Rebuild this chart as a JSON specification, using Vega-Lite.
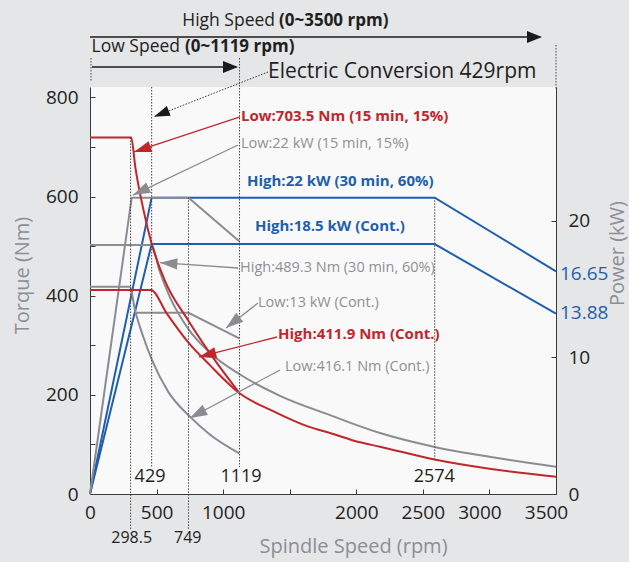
{
  "$schema": "https://vega.github.io/schema/vega-lite/v6.json",
  "width": 466,
  "height": 407,
  "autosize": "none",
  "padding": {"left": 90, "top": 87, "right": 73, "bottom": 68},
  "background": "#e5e6e8",
  "config": {
    "view": {"fill": "#f9f9f9", "stroke": null},
    "font": "Open Sans",
    "text": {"font": "Open Sans"}
  },
  "layer": [
    {
      "encoding": {
        "x": {"field": "rpm", "type": "quantitative", "scale": {"domain": [0, 3500], "nice": false}},
        "y": {
          "field": "p", "type": "quantitative",
          "scale": {"domain": [0, 29.8], "nice": false, "zero": true},
          "axis": {
            "orient": "right", "values": [0, 10, 20, 30], "grid": false,
            "domainColor": "#3a3a3a", "tickColor": "#3a3a3a", "tickSize": -5, "labelPadding": 17,
            "labelFontSize": 19, "labelColor": "#231f20", "labelFont": "Open Sans",
            "title": "Power (kW)", "titleFontSize": 20, "titleFontWeight": "normal", "titleColor": "#8b8e96",
            "titleFont": "Open Sans", "titleAngle": 270, "titleX": 61, "titleY": 166, "titleAlign": "center", "titleBaseline": "middle"
          }
        }
      },
      "layer": [
        {
          "data": {"values": [
            {"series": "High 22 kW (30 min, 60%)", "rpm": 0, "p": 0},
            {"series": "High 22 kW (30 min, 60%)", "rpm": 463, "p": 21.7},
            {"series": "High 22 kW (30 min, 60%)", "rpm": 2589, "p": 21.7},
            {"series": "High 22 kW (30 min, 60%)", "rpm": 3500, "p": 16.3},
            {"series": "High 18.5 kW (Cont.)", "rpm": 0, "p": 0},
            {"series": "High 18.5 kW (Cont.)", "rpm": 463, "p": 18.3},
            {"series": "High 18.5 kW (Cont.)", "rpm": 2589, "p": 18.3},
            {"series": "High 18.5 kW (Cont.)", "rpm": 3500, "p": 13.2}
          ]},
          "mark": {"type": "line", "color": "#1f5fad", "strokeWidth": 2},
          "encoding": {"detail": {"field": "series"}}
        },
        {
          "data": {"values": [
            {"series": "Low 22 kW (15 min, 15%)", "rpm": 0, "p": 0},
            {"series": "Low 22 kW (15 min, 15%)", "rpm": 313, "p": 21.7},
            {"series": "Low 22 kW (15 min, 15%)", "rpm": 740, "p": 21.7},
            {"series": "Low 22 kW (15 min, 15%)", "rpm": 1121, "p": 18.5},
            {"series": "Low 13 kW (Cont.)", "rpm": 338, "p": 13.27},
            {"series": "Low 13 kW (Cont.)", "rpm": 740, "p": 13.27},
            {"series": "Low 13 kW (Cont.)", "rpm": 1121, "p": 11.4}
          ]},
          "mark": {"type": "line", "color": "#8a8c92", "strokeWidth": 2},
          "encoding": {"detail": {"field": "series"}}
        },
        {
          "data": {"values": [
            {"label": "16.65", "rpm": 3530, "p": 16.1},
            {"label": "13.88", "rpm": 3530, "p": 13.23}
          ]},
          "mark": {"type": "text", "align": "left", "baseline": "middle", "fontSize": 19, "color": "#1f5fad"},
          "encoding": {"text": {"field": "label"}}
        }
      ]
    },
    {
      "encoding": {
        "x": {
          "field": "rpm", "type": "quantitative", "scale": {"domain": [0, 3500], "nice": false},
          "axis": {
            "values": [0, 500, 1000, 1500, 2000, 2500, 3000, 3500], "format": "d",
            "labelExpr": "datum.value === 1500 ? '' : datum.label", "labelFlush": false,
            "labelOffset": {"condition": {"test": "datum.value >= 3000", "value": -10}, "value": 0},
            "grid": false, "domainColor": "#3a3a3a", "tickColor": "#3a3a3a", "tickSize": -5, "labelPadding": 14,
            "labelFontSize": 19, "labelColor": "#231f20", "labelFont": "Open Sans",
            "title": "Spindle Speed (rpm)", "titleFontSize": 20, "titleFontWeight": "normal", "titleColor": "#8b8e96",
            "titleFont": "Open Sans", "titleX": 263, "titleY": 52, "titleAlign": "center", "titleBaseline": "middle"
          }
        },
        "y": {
          "field": "t", "type": "quantitative",
          "scale": {"domain": [0, 821], "nice": false, "zero": true},
          "axis": {
            "orient": "left", "values": [0, 100, 200, 300, 400, 500, 600, 700, 800],
            "labelExpr": "datum.value % 200 === 0 ? datum.label : ''",
            "grid": false, "domainColor": "#3a3a3a", "tickColor": "#3a3a3a", "tickSize": -5, "labelPadding": 17,
            "labelFontSize": 19, "labelColor": "#231f20", "labelFont": "Open Sans",
            "title": "Torque (Nm)", "titleFontSize": 20, "titleFontWeight": "normal", "titleColor": "#8b8e96",
            "titleFont": "Open Sans", "titleAngle": 270, "titleX": -68, "titleY": 188, "titleAlign": "center", "titleBaseline": "middle"
          }
        }
      },
      "layer": [
        {
          "data": {"values": [
            {"series": "High 489.3 Nm (30 min, 60%)", "rpm": 0, "t": 502.3},
            {"series": "High 489.3 Nm (30 min, 60%)", "rpm": 463, "t": 502.3},
            {"series": "High 489.3 Nm (30 min, 60%)", "rpm": 520, "t": 452},
            {"series": "High 489.3 Nm (30 min, 60%)", "rpm": 600, "t": 397},
            {"series": "High 489.3 Nm (30 min, 60%)", "rpm": 738, "t": 333},
            {"series": "High 489.3 Nm (30 min, 60%)", "rpm": 900, "t": 285},
            {"series": "High 489.3 Nm (30 min, 60%)", "rpm": 1121, "t": 242},
            {"series": "High 489.3 Nm (30 min, 60%)", "rpm": 1427, "t": 198},
            {"series": "High 489.3 Nm (30 min, 60%)", "rpm": 1803, "t": 159},
            {"series": "High 489.3 Nm (30 min, 60%)", "rpm": 2178, "t": 123},
            {"series": "High 489.3 Nm (30 min, 60%)", "rpm": 2589, "t": 95},
            {"series": "High 489.3 Nm (30 min, 60%)", "rpm": 3000, "t": 75},
            {"series": "High 489.3 Nm (30 min, 60%)", "rpm": 3500, "t": 55},
            {"series": "Low 416.1 Nm (Cont.)", "rpm": 0, "t": 418.2},
            {"series": "Low 416.1 Nm (Cont.)", "rpm": 300, "t": 418.2},
            {"series": "Low 416.1 Nm (Cont.)", "rpm": 338, "t": 371.2},
            {"series": "Low 416.1 Nm (Cont.)", "rpm": 400, "t": 317.3},
            {"series": "Low 416.1 Nm (Cont.)", "rpm": 463, "t": 272},
            {"series": "Low 416.1 Nm (Cont.)", "rpm": 588, "t": 206},
            {"series": "Low 416.1 Nm (Cont.)", "rpm": 751, "t": 156},
            {"series": "Low 416.1 Nm (Cont.)", "rpm": 900, "t": 120},
            {"series": "Low 416.1 Nm (Cont.)", "rpm": 1121, "t": 82}
          ]},
          "mark": {"type": "line", "color": "#8a8c92", "strokeWidth": 2, "interpolate": "monotone"},
          "encoding": {"detail": {"field": "series"}}
        },
        {
          "data": {"values": [
            {"series": "Low 703.5 Nm (15 min, 15%)", "rpm": 0, "t": 719},
            {"series": "Low 703.5 Nm (15 min, 15%)", "rpm": 310, "t": 719},
            {"series": "Low 703.5 Nm (15 min, 15%)", "rpm": 340, "t": 660},
            {"series": "Low 703.5 Nm (15 min, 15%)", "rpm": 400, "t": 575},
            {"series": "Low 703.5 Nm (15 min, 15%)", "rpm": 463, "t": 505},
            {"series": "Low 703.5 Nm (15 min, 15%)", "rpm": 563, "t": 430},
            {"series": "Low 703.5 Nm (15 min, 15%)", "rpm": 738, "t": 350},
            {"series": "Low 703.5 Nm (15 min, 15%)", "rpm": 924, "t": 275},
            {"series": "Low 703.5 Nm (15 min, 15%)", "rpm": 1121, "t": 204},
            {"series": "High 411.9 Nm (Cont.)", "rpm": 0, "t": 411.5},
            {"series": "High 411.9 Nm (Cont.)", "rpm": 458, "t": 411.5},
            {"series": "High 411.9 Nm (Cont.)", "rpm": 576, "t": 364.5},
            {"series": "High 411.9 Nm (Cont.)", "rpm": 738, "t": 306},
            {"series": "High 411.9 Nm (Cont.)", "rpm": 900, "t": 260},
            {"series": "High 411.9 Nm (Cont.)", "rpm": 1121, "t": 203.7},
            {"series": "High 411.9 Nm (Cont.)", "rpm": 1375, "t": 167},
            {"series": "High 411.9 Nm (Cont.)", "rpm": 1640, "t": 135.8},
            {"series": "High 411.9 Nm (Cont.)", "rpm": 1803, "t": 123},
            {"series": "High 411.9 Nm (Cont.)", "rpm": 2028, "t": 104.3},
            {"series": "High 411.9 Nm (Cont.)", "rpm": 2178, "t": 95.4},
            {"series": "High 411.9 Nm (Cont.)", "rpm": 2587, "t": 69.6},
            {"series": "High 411.9 Nm (Cont.)", "rpm": 3000, "t": 51},
            {"series": "High 411.9 Nm (Cont.)", "rpm": 3500, "t": 35}
          ]},
          "mark": {"type": "line", "color": "#c0272d", "strokeWidth": 2, "interpolate": "monotone"},
          "encoding": {"detail": {"field": "series"}}
        },
        {
          "data": {"values": [
            {"mark": "298.5", "rpm": 305, "t": 719, "t2": -72.6},
            {"mark": "429", "rpm": 463, "t": 821, "t2": 54.5},
            {"mark": "749", "rpm": 740, "t": 598.5, "t2": -72.6},
            {"mark": "1119", "rpm": 1123, "t": 879.5, "t2": 54.5},
            {"mark": "2574", "rpm": 2589, "t": 598.5, "t2": 68.6},
            {"mark": "3500", "rpm": 3500, "t": 905.7, "t2": 815},
            {"mark": "0", "rpm": 7.5, "t": 879.5, "t2": 831}
          ]},
          "mark": {"type": "rule", "color": "#444444", "strokeWidth": 1, "strokeDash": [1.5, 1.5]},
          "encoding": {"y2": {"field": "t2"}}
        },
        {
          "data": {"values": [
            {"arrow": "Electric Conversion", "rpm": 1337, "t": 851.3, "rpm2": 480.7, "t2": 761.1}
          ]},
          "mark": {"type": "rule", "color": "#333333", "strokeWidth": 1, "strokeDash": [1.5, 1.5]},
          "encoding": {"x2": {"field": "rpm2"}, "y2": {"field": "t2"}}
        },
        {
          "data": {"values": [
            {"arrow": "High Speed", "rpm": 0, "t": 921.9, "rpm2": 3380, "t2": 921.9},
            {"arrow": "Low Speed", "rpm": 15, "t": 861.4, "rpm2": 1100, "t2": 861.4}
          ]},
          "mark": {"type": "rule", "color": "#1a1a1a", "strokeWidth": 1.5},
          "encoding": {"x2": {"field": "rpm2"}, "y2": {"field": "t2"}}
        },
        {
          "data": {"values": [
            {"arrow": "Low 703.5 Nm", "rpm": 1126.6, "t": 760.5, "rpm2": 330.5, "t2": 689.9},
            {"arrow": "High 411.9 Nm", "rpm": 1404.5, "t": 316.7, "rpm2": 818.7, "t2": 276.4}
          ]},
          "mark": {"type": "rule", "color": "#c0272d", "strokeWidth": 1.3},
          "encoding": {"x2": {"field": "rpm2"}, "y2": {"field": "t2"}}
        },
        {
          "data": {"values": [
            {"arrow": "Low 22 kW", "rpm": 1111.6, "t": 704, "rpm2": 323, "t2": 603},
            {"arrow": "High 489.3 Nm", "rpm": 1111.6, "t": 455.9, "rpm2": 525.7, "t2": 466.6},
            {"arrow": "Low 13 kW", "rpm": 1261.8, "t": 385.3, "rpm2": 1021.5, "t2": 334.9},
            {"arrow": "Low 416.1 Nm", "rpm": 1427, "t": 250.1, "rpm2": 751, "t2": 153.3}
          ]},
          "mark": {"type": "rule", "color": "#8a8c92", "strokeWidth": 1.3},
          "encoding": {"x2": {"field": "rpm2"}, "y2": {"field": "t2"}}
        },
        {
          "data": {"values": [{"arrow": "Low 703.5 Nm", "rpm": 330.5, "t": 689.9}]},
          "mark": {"type": "point", "shape": "M0,0L-0.33,1L0.33,1Z", "size": 1200, "filled": true, "opacity": 1, "color": "#c0272d", "angle": 251.7}
        },
        {
          "data": {"values": [{"arrow": "High 411.9 Nm", "rpm": 818.7, "t": 276.4}]},
          "mark": {"type": "point", "shape": "M0,0L-0.33,1L0.33,1Z", "size": 1200, "filled": true, "opacity": 1, "color": "#c0272d", "angle": 255.6}
        },
        {
          "data": {"values": [{"arrow": "Low 22 kW", "rpm": 323, "t": 603}]},
          "mark": {"type": "point", "shape": "M0,0L-0.33,1L0.33,1Z", "size": 1200, "filled": true, "opacity": 1, "color": "#8a8c92", "angle": 244.5}
        },
        {
          "data": {"values": [{"arrow": "High 489.3 Nm", "rpm": 525.7, "t": 466.6}]},
          "mark": {"type": "point", "shape": "M0,0L-0.33,1L0.33,1Z", "size": 1200, "filled": true, "opacity": 1, "color": "#8a8c92", "angle": 273.9}
        },
        {
          "data": {"values": [{"arrow": "Low 13 kW", "rpm": 1021.5, "t": 334.9}]},
          "mark": {"type": "point", "shape": "M0,0L-0.33,1L0.33,1Z", "size": 1200, "filled": true, "opacity": 1, "color": "#8a8c92", "angle": 232}
        },
        {
          "data": {"values": [{"arrow": "Low 416.1 Nm", "rpm": 751, "t": 153.3}]},
          "mark": {"type": "point", "shape": "M0,0L-0.33,1L0.33,1Z", "size": 1200, "filled": true, "opacity": 1, "color": "#8a8c92", "angle": 241.9}
        },
        {
          "data": {"values": [{"arrow": "Electric Conversion", "rpm": 480.7, "t": 761.1}]},
          "mark": {"type": "point", "shape": "M0,0L-0.33,1L0.33,1Z", "size": 1000, "filled": true, "opacity": 1, "color": "#1a1a1a", "angle": 248.6}
        },
        {
          "data": {"values": [
            {"arrow": "High Speed", "rpm": 3395, "t": 921.9},
            {"arrow": "Low Speed", "rpm": 1111.6, "t": 861.4}
          ]},
          "mark": {"type": "point", "shape": "M0,0L-0.4,1L0.4,1Z", "size": 900, "filled": true, "opacity": 1, "color": "#1a1a1a", "angle": 90}
        },
        {
          "data": {"values": [
            {"label": "Low:703.5 Nm (15 min, 15%)", "rpm": 1134, "t": 762.5},
            {"label": "High:411.9 Nm (Cont.)", "rpm": 1412, "t": 322.8}
          ]},
          "mark": {"type": "text", "align": "left", "baseline": "middle", "fontSize": 15, "fontWeight": "bold", "color": "#c0272d"},
          "encoding": {"text": {"field": "label"}}
        },
        {
          "data": {"values": [
            {"label": "High:22 kW (30 min, 60%)", "rpm": 1179, "t": 631.4},
            {"label": "High:18.5 kW (Cont.)", "rpm": 1239, "t": 540.6}
          ]},
          "mark": {"type": "text", "align": "left", "baseline": "middle", "fontSize": 15, "fontWeight": "bold", "color": "#1f5fad"},
          "encoding": {"text": {"field": "label"}}
        },
        {
          "data": {"values": [
            {"label": "Low:22 kW (15 min, 15%)", "rpm": 1134, "t": 706},
            {"label": "High:489.3 Nm (30 min, 60%)", "rpm": 1127, "t": 455.9},
            {"label": "Low:13 kW (Cont.)", "rpm": 1262, "t": 385.3},
            {"label": "Low:416.1 Nm (Cont.)", "rpm": 1465, "t": 256.2}
          ]},
          "mark": {"type": "text", "align": "left", "baseline": "middle", "fontSize": 14.5, "color": "#8e9096"},
          "encoding": {"text": {"field": "label"}}
        },
        {
          "data": {"values": [
            {"label": "429", "rpm": 451, "t": 34.3},
            {"label": "1119", "rpm": 1134, "t": 34.3},
            {"label": "2574", "rpm": 2586, "t": 34.9}
          ]},
          "mark": {"type": "text", "align": "center", "baseline": "middle", "fontSize": 18, "color": "#231f20"},
          "encoding": {"text": {"field": "label"}}
        },
        {
          "data": {"values": [
            {"label": "298.5", "rpm": 313, "t": -88.8},
            {"label": "749", "rpm": 734, "t": -88.8}
          ]},
          "mark": {"type": "text", "align": "center", "baseline": "middle", "fontSize": 16, "color": "#231f20"},
          "encoding": {"text": {"field": "label"}}
        },
        {
          "data": {"values": [
            {"label": "High Speed", "rpm": 1389.5, "t": 954},
            {"label": "Low Speed", "rpm": 676, "t": 901.5}
          ]},
          "mark": {"type": "text", "align": "right", "baseline": "middle", "fontSize": 17.5, "color": "#231f20"},
          "encoding": {"text": {"field": "label"}}
        },
        {
          "data": {"values": [
            {"label": "(0~3500 rpm)", "rpm": 1419.5, "t": 954},
            {"label": "(0~1119 rpm)", "rpm": 713.5, "t": 901.5}
          ]},
          "mark": {"type": "text", "align": "left", "baseline": "middle", "fontSize": 17, "fontWeight": "bold", "color": "#231f20"},
          "encoding": {"text": {"field": "label"}}
        },
        {
          "data": {"values": [
            {"label": "Electric Conversion 429rpm", "rpm": 1337, "t": 851.3}
          ]},
          "mark": {"type": "text", "align": "left", "baseline": "middle", "fontSize": 21, "color": "#231f20"},
          "encoding": {"text": {"field": "label"}}
        }
      ]
    }
  ],
  "resolve": {"scale": {"y": "independent"}}
}
